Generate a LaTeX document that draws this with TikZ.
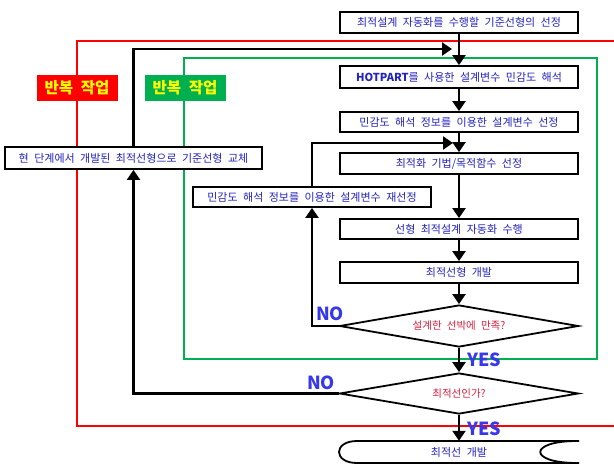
\documentclass[tikz,border=0pt]{standalone}
\usepackage{fontspec}
\setmainfont{Noto Sans CJK KR}[WordSpace=2.2]
\usetikzlibrary{arrows.meta,shapes.geometric}
\definecolor{txtblue}{RGB}{35,35,190}
\definecolor{lblblue}{RGB}{55,55,235}
\definecolor{dred}{RGB}{215,30,60}
\definecolor{fred}{RGB}{255,0,0}
\definecolor{fgreen}{RGB}{0,176,80}
\definecolor{lyellow}{RGB}{255,255,0}
\begin{document}
\begin{tikzpicture}[x=1pt,y=-1pt,
  box/.style={draw=black, line width=1.8pt, fill=white, text=txtblue,
    font=\fontsize{11}{13}\selectfont, inner sep=0pt, minimum height=21pt, minimum width=238pt},
  dec/.style={diamond, aspect=5.7, draw=black, line width=1.8pt, fill=white, text=dred,
    font=\fontsize{10.5}{12}\selectfont, inner sep=0pt, minimum width=239pt, minimum height=42pt},
  tag/.style={text=lyellow, font=\fontsize{15.5}{17}\selectfont\bfseries, inner sep=0pt,
    minimum width=81pt, minimum height=26pt},
  yn/.style={text=lblblue, font=\fontsize{18}{20}\selectfont\bfseries, inner sep=0pt},
  arr/.style={draw=black, line width=2.2pt, -{Triangle[length=10pt,width=13pt]}},
]
\useasboundingbox (0,0) rectangle (614,464);
\fill[white] (0,0) rectangle (614,464);

% loop frames
\draw[fred, line width=1.5pt] (614,41) -| (77,426) -- (614,426);
\draw[fgreen, line width=1.2pt] (184,58) rectangle (597,359);
\node[tag, fill=fred] (tagr) at (77,88) {반복 작업};
\node[tag, fill=fgreen] (tagg) at (185,88) {반복 작업};

% main column
\node[box] (b1) at (459,22.5) {최적설계 자동화를 수행할 기준선형의 선정};
\node[box, minimum height=22pt] (b2) at (459,77) {{\bfseries HOTPART}를 사용한 설계변수 민감도 해석};
\node[box, minimum height=20pt] (b3) at (459,122) {민감도 해석 정보를 이용한 설계변수 선정};
\node[box] (b4) at (459,163.5) {최적화 기법/목적함수 선정};
\node[box, minimum height=20pt] (b5) at (459,229) {선형 최적설계 자동화 수행};
\node[box] (b6) at (459,272.5) {최적선형 개발};
\node[dec] (d1) at (459,326) {설계한 선박에 만족?};
\node[dec, minimum height=41pt] (d2) at (459,393.5) {최적선인가?};

% side boxes
\node[box, minimum width=257pt, minimum height=22pt] (lb) at (133.5,158) {현 단계에서 개발된 최적선형으로 기준선형 교체};
\node[box, minimum height=20pt] (rs) at (312,197) {민감도 해석 정보를 이용한 설계변수 재선정};

% terminal
\draw[black, line width=1.8pt, fill=white]
  (579,441) -- (357,441) .. controls (333,441) and (333,463) .. (357,463) -- (579,463);
\draw[black, line width=1.8pt]
  (577,441) .. controls (528,441) and (528,463) .. (577,463);
\node[text=txtblue, font=\fontsize{11}{13}\selectfont, inner sep=0pt,
  minimum width=238pt, minimum height=22pt] (term) at (459,452) {최적선 개발};

% connectors
\coordinate (t1) at (452,49);
\coordinate (t2) at (453,143);
\draw[arr] (b1) -- (b2);
\draw[arr] (b2) -- (b3);
\draw[arr] (b3) -- (b4);
\draw[arr] (b4) -- (b5);
\draw[arr] (b5) -- (b6);
\draw[arr] (b6) -- (d1);
\draw[arr] (d1) -- (d2);
\draw[arr] (d2) -- (term);
\draw[arr] (lb.north) |- (t1);
\draw[arr] (rs.north) |- (t2);
\draw[arr] (d1.west) -| (rs.south);
\draw[arr] (d2.west) -| (lb.south);

% branch labels
\node[yn] (no1) at (330,313.5) {NO};
\node[yn] (no2) at (321,382.5) {NO};
\node[yn] (yes1) at (484,360) {YES};
\node[yn] (yes2) at (484,428.5) {YES};
\end{tikzpicture}
\end{document}
